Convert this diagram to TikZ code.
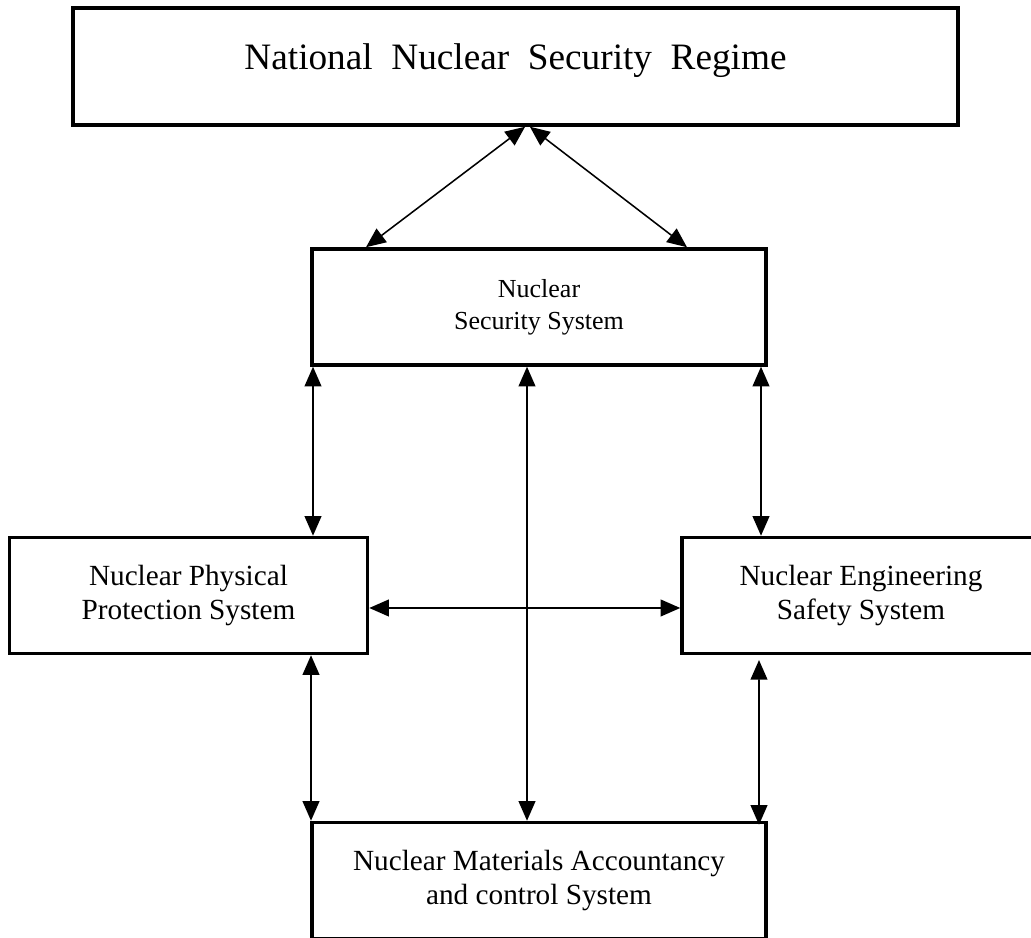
\documentclass[tikz,border=0pt]{standalone}
\usepackage{fontspec}
\setmainfont{Liberation Serif}
\usetikzlibrary{arrows.meta}

\begin{document}
\begin{tikzpicture}[>={Triangle[length=14pt,width=12pt]},
	sysbox/.style={draw,line width=2.5pt,minimum width=8.95cm,minimum height=2.9cm,
		inner sep=0pt,align=center,font=\fontsize{20.8}{23.8}\selectfont},
	link/.style={<->,line width=1.1pt}]

\useasboundingbox (0,0) rectangle (25.775,23.45);

\node[sysbox,minimum width=22.125cm,minimum height=2.925cm,
	font=\fontsize{26.5}{30}\selectfont,text height=18.5pt,text depth=13.5pt]
	(regime) at (12.8875,21.7875) {National\ \ Nuclear\ \ Security\ \ Regime};

\node[sysbox,minimum width=11.35cm,font=\fontsize{18.5}{22.8}\selectfont]
	(security) at (13.475,15.775) {Nuclear\\Security System};

\node[sysbox] (protection) at (4.7125,8.5625) {Nuclear Physical\\Protection System};
\node[sysbox] (engineering) at (21.525,8.5625) {Nuclear Engineering\\Safety System};

\node[sysbox,minimum width=11.35cm] (materials) at (13.475,1.4375)
	{Nuclear Materials Accountancy\\and control System};

\draw[link] ([xshift=0.24cm]regime.south) -- ([xshift=-4.325cm]security.north);
\draw[link] ([xshift=0.36cm]regime.south) -- ([xshift=3.7cm]security.north);

\draw[link] ([xshift=-5.65cm]security.south) -- ([xshift=3.1125cm]protection.north);
\draw[link] ([xshift=5.55cm]security.south) -- ([xshift=-2.5cm]engineering.north);
\draw[link] ([xshift=-0.3cm]security.south) -- ([xshift=-0.3cm]materials.north);

\draw[link] ([yshift=-0.3125cm]protection.east) -- ([yshift=-0.3125cm]engineering.west);

\draw[link] ([xshift=3.0625cm]protection.south) -- ([xshift=-5.7cm]materials.north);
\draw[link] ([xshift=-2.55cm,yshift=-0.12cm]engineering.south) -- ([xshift=5.5cm,yshift=-0.1cm]materials.north);

\end{tikzpicture}
\end{document}
